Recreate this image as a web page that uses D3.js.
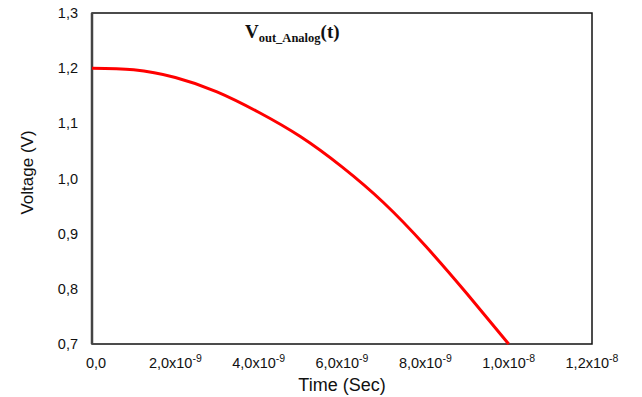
<!DOCTYPE html>
<html>
<head>
<meta charset="utf-8">
<script src="https://cdn.jsdelivr.net/npm/d3@7"></script>
<style>
  body { margin: 0; background: #fff; }
  text { font-family: "Liberation Sans", Arial, sans-serif; }
</style>
</head>
<body>
<div class="container"></div>
<script>
// time in ns, voltage in V
const timeNs = [0, 1, 2, 3, 4, 5, 6, 7, 8, 9, 10];
const voltage = [1.200, 1.197, 1.183, 1.157, 1.120, 1.076, 1.021, 0.956, 0.878, 0.791, 0.700];

const xTicks = [0, 2, 4, 6, 8, 10, 12];
const xTickMantissa = ['0,0', '2,0x10', '4,0x10', '6,0x10', '8,0x10', '1,0x10', '1,2x10'];
const xTickExponent = ['', '-9', '-9', '-9', '-9', '-8', '-8'];
const yTicks = [0.7, 0.8, 0.9, 1.0, 1.1, 1.2, 1.3];
const yTickLabels = ['0,7', '0,8', '0,9', '1,0', '1,1', '1,2', '1,3'];

const width = 642;
const height = 397;
const margin = { left: 92, right: 50, top: 13, bottom: 53 };

const svg = d3.select('.container')
  .append('svg')
  .attr('width', width)
  .attr('height', height);

const x = d3.scaleLinear()
  .domain([0, 12])
  .range([margin.left, width - margin.right]);

const y = d3.scaleLinear()
  .domain([0.7, 1.3])
  .range([height - margin.bottom, margin.top]);

// frame
svg.append('rect')
  .attr('x', x(0))
  .attr('y', y(1.3))
  .attr('width', x(12) - x(0))
  .attr('height', y(0.7) - y(1.3))
  .attr('fill', 'none')
  .attr('stroke', '#111')
  .attr('stroke-width', 1.5);

svg.append('line')
  .attr('x1', x(0)).attr('x2', x(0))
  .attr('y1', y(1.3)).attr('y2', y(0.7))
  .attr('stroke', '#444')
  .attr('stroke-width', 2.5);

// y tick labels
svg.append('g')
  .selectAll('text')
  .data(yTicks)
  .enter()
  .append('text')
  .attr('x', x(0) - 14)
  .attr('y', d => y(d))
  .attr('dy', '0.35em')
  .attr('text-anchor', 'end')
  .attr('font-size', 14.5)
  .attr('fill', '#111')
  .text((d, i) => yTickLabels[i]);

// x tick labels
const xLabels = svg.append('g')
  .selectAll('text')
  .data(xTicks)
  .enter()
  .append('text')
  .attr('x', d => x(d) + (d === 0 ? 4 : 0))
  .attr('y', height - margin.bottom + 24)
  .attr('text-anchor', 'middle')
  .attr('font-size', 14.5)
  .attr('fill', '#111');

xLabels.append('tspan')
  .text((d, i) => xTickMantissa[i]);

xLabels.append('tspan')
  .attr('dy', -6)
  .attr('font-size', 10.5)
  .text((d, i) => xTickExponent[i]);

// axis titles
svg.append('text')
  .attr('x', (x(0) + x(12)) / 2)
  .attr('y', 391)
  .attr('text-anchor', 'middle')
  .attr('font-size', 18)
  .attr('fill', '#111')
  .text('Time (Sec)');

svg.append('text')
  .attr('transform', `translate(33, ${(y(0.7) + y(1.3)) / 2 - 6}) rotate(-90)`)
  .attr('text-anchor', 'middle')
  .attr('font-size', 17)
  .attr('fill', '#111')
  .text('Voltage (V)');

// title (serif, bold)
const title = svg.append('text')
  .attr('x', 245)
  .attr('y', 38)
  .style('font-family', '"Liberation Serif", "Times New Roman", serif')
  .attr('font-weight', 'bold')
  .attr('font-size', 19)
  .attr('fill', '#111');

title.append('tspan').text('V');
title.append('tspan')
  .attr('dy', 4)
  .attr('font-size', 12.5)
  .text('out_Analog');
title.append('tspan')
  .attr('dy', -4)
  .text('(t)');

// curve
const line = d3.line()
  .x((d, i) => x(timeNs[i]))
  .y(d => y(d))
  .curve(d3.curveNatural);

svg.append('path')
  .datum(voltage)
  .attr('fill', 'none')
  .attr('stroke', '#ff0000')
  .attr('stroke-width', 3)
  .attr('d', line);
</script>
</body>
</html>
